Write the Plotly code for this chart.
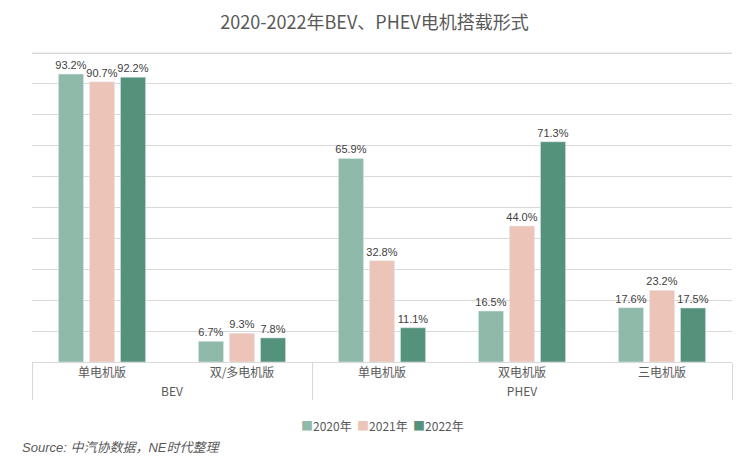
import plotly.graph_objects as go

outer = ["BEV", "BEV", "PHEV", "PHEV", "PHEV"]
inner = ["单电机版", "双/多电机版", "单电机版", "双电机版", "三电机版"]
years = ["2020年", "2021年", "2022年"]
v2020 = [93.2, 6.7, 65.9, 16.5, 17.6]
v2021 = [90.7, 9.3, 32.8, 44.0, 23.2]
v2022 = [92.2, 7.8, 11.1, 71.3, 17.5]
colors = ["#8FB9A8", "#ECC5B8", "#55927B"]

FONT = "Noto Sans CJK SC"
fig = go.Figure()
for name, vals, c in zip(years, [v2020, v2021, v2022], colors):
    fig.add_trace(go.Bar(
        x=[outer, inner], y=vals, name=name, marker_color=c,
        text=[f"{v:.1f}%" for v in vals], textposition="outside",
        constraintext="none",
        textfont=dict(size=11, color="#404040", family="Liberation Sans, Arial"),
        cliponaxis=False, showlegend=False,
    ))

fig.update_layout(
    width=749, height=467,
    paper_bgcolor="white", plot_bgcolor="white",
    margin=dict(l=32, r=17, t=50, b=105),
    title=dict(text="2020-2022年BEV、PHEV电机搭载形式", x=0.5, xanchor="center",
               y=0.951, yanchor="middle",
               font=dict(size=18, color="#595959", family=FONT)),
    barmode="group", bargap=0.335, bargroupgap=0.19,
    font=dict(family=FONT, color="#595959"),
    showlegend=False,
)
fig.update_yaxes(range=[0, 101], tick0=0, dtick=10, showticklabels=False,
                 gridcolor="#D9D9D9", gridwidth=1, zeroline=False, showline=False,
                 automargin=False)
fig.update_xaxes(showline=True, linecolor="#D9D9D9", showdividers=True,
                 dividercolor="#D9D9D9", dividerwidth=1, automargin=False,
                 tickfont=dict(size=12, color="#595959"), ticks="")
fig.add_shape(type="line", xref="paper", yref="paper", x0=0, x1=1,
              y0=100 / 101, y1=100 / 101,
              line=dict(color="#D9D9D9", width=1), layer="below")

legend_txt = "  ".join(
    f"<span style='color:{c}'>■</span>{y}" for y, c in zip(years, colors))
fig.add_annotation(text=legend_txt, xref="paper", yref="paper",
                   x=0.5, y=-0.205, xanchor="center", yanchor="middle", showarrow=False,
                   font=dict(size=12, color="#595959", family=FONT))
fig.add_annotation(text="<i>Source: 中汽协数据，NE时代整理</i>", xref="paper", yref="paper",
                   x=-0.017, y=-0.245, xanchor="left", yanchor="top", showarrow=False,
                   font=dict(size=13, color="#595959", family="Liberation Sans, " + FONT))
fig.write_html("out.html", config={"displayModeBar": False},
               post_script="document.body.style.margin='0';")
